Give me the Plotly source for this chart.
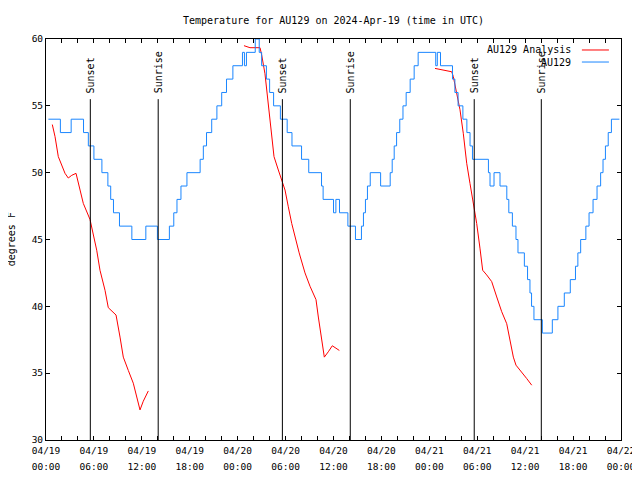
import pandas as pd
import plotly.graph_objects as go

# ---------------- data ----------------
start_date = "2024-04-19"
end_date = "2024-04-22"

# AU129 observed (level start hour after 04/19 00:00 UTC, temp F) - drawn as steps
obs_hours = [0.3, 1.8, 3.15, 4.7, 5.3, 6.0, 7.0, 7.75, 8.1, 8.45, 9.2, 10.75, 12.5, 13.95,
             15.45, 16.0, 16.4, 16.9, 17.65, 19.3, 19.7, 20.1, 20.75, 21.4, 22.0, 22.6, 23.4,
             24.6, 24.85, 25.1, 26.2, 26.7, 27.0, 27.6, 28.0, 28.5, 29.35, 30.2, 30.8, 32.0,
             32.9, 34.5, 34.7, 36.0, 36.3, 36.75, 37.8, 38.75, 39.5, 39.75, 40.0, 40.25, 40.6,
             41.9, 43.1, 43.35, 43.6, 43.9, 44.3, 44.7, 45.1, 45.6, 46.1, 46.6, 48.8, 49.0,
             49.4, 50.9, 51.2, 51.6, 52.2, 52.7, 53.1, 53.4, 55.4, 55.6, 56.1, 56.85, 57.7,
             57.95, 58.4, 58.85, 59.1, 59.9, 60.3, 60.6, 60.8, 61.1, 62.15, 63.4, 64.1, 64.9,
             65.65, 66.3, 66.6, 66.95, 67.6, 68.0, 68.5, 69.0, 69.45, 69.75, 70.05, 70.4, 70.8,
             71.8]
obs_temps = [54, 53, 54, 53, 52, 51, 50, 49, 48, 47, 46, 45, 46, 45,
             46, 47, 48, 49, 50, 51, 52, 53, 54, 55, 56, 57, 58,
             59, 58, 59, 60, 59, 58, 57, 56, 55, 54, 53, 52, 51,
             50, 49, 48, 47, 48, 47, 46, 45, 46, 47, 48, 49, 50,
             49, 50, 51, 52, 53, 54, 55, 56, 57, 58, 59, 58, 59,
             58, 57, 56, 55, 54, 53, 52, 51, 50, 49, 50, 49, 48,
             47, 46, 45, 44, 43, 42, 41, 40, 39, 38, 39, 40, 41,
             42, 43, 44, 45, 46, 47, 48, 49, 50, 51, 52, 53, 54,
             54]

# AU129 Analysis (three separate runs)
ana1_hours = [0.79, 1.13, 1.54, 1.84, 2.38, 2.79, 3.22, 3.76, 4.67, 5.51, 6.35, 6.76, 7.39,
              7.8, 8.77, 9.27, 9.68, 10.31, 10.93, 11.77, 12.18, 12.81]
ana1_temps = [53.6, 52.7, 51.2, 50.7, 49.95, 49.6, 49.8, 49.95, 47.7, 46.5, 44.2, 42.7, 41.2,
              39.9, 39.35, 37.7, 36.2, 35.2, 34.25, 32.25, 32.9, 33.67]
ana2_hours = [24.79, 25.54, 26.8, 27.01, 27.42, 27.84, 28.26, 28.55, 29.09, 29.51, 29.93,
              30.34, 30.77, 31.7, 32.43, 33.06, 33.81, 34.1, 34.52, 34.85, 35.35, 35.85, 36.73]
ana2_temps = [59.5, 59.35, 59.35, 58.8, 57.4, 55.2, 53.2, 51.2, 50.2, 49.45, 48.7,
              47.45, 46.2, 44.0, 42.5, 41.5, 40.5, 39.2, 37.5, 36.2, 36.6, 37.05, 36.7]
ana3_hours = [48.71, 49.55, 50.8, 51.0, 51.43, 51.84, 52.25, 52.68, 53.09, 53.51, 53.93,
              54.35, 54.68, 55.18, 55.81, 56.44, 57.06, 57.69, 58.1, 58.52, 58.85, 59.57,
              60.19, 60.82]
ana3_temps = [57.8, 57.7, 57.55, 57.2, 55.9, 54.7, 52.95, 50.7, 49.2, 47.7, 46.2,
              44.3, 42.7, 42.35, 41.85, 40.7, 39.6, 38.7, 37.5, 36.2, 35.6, 35.1,
              34.6, 34.1]

event_hours = [5.55, 14.05, 29.6, 38.1, 53.62, 62.02]
event_labels = ["Sunset", "Sunrise", "Sunset", "Sunrise", "Sunset", "Sunrise"]

y_min, y_max = 30, 60
title_text = "Temperature for AU129 on 2024-Apr-19 (time in UTC)"
y_label = "degrees F"
series_names = ["AU129 Analysis", "AU129"]

# ---------------- helpers ----------------
base = pd.Timestamp(start_date)


def to_dt(hours):
    return [(base + pd.Timedelta(hours=h)).strftime("%Y-%m-%d %H:%M:%S") for h in hours]


RED = "#ff0000"
BLUE = "#1a86ff"
FONT = "DejaVu Sans Mono"

# page body has an 8px margin: size the figure so the page is exactly 640x480
FIG_W, FIG_H = 624, 464

fig = go.Figure()

ana_sets = [(ana1_hours, ana1_temps), (ana2_hours, ana2_temps), (ana3_hours, ana3_temps)]
for i, (hh, tt) in enumerate(ana_sets):
    fig.add_trace(go.Scatter(x=to_dt(hh), y=tt, mode="lines", name=series_names[0],
                             line=dict(color=RED, width=1), showlegend=False))

fig.add_trace(go.Scatter(x=to_dt(obs_hours), y=obs_temps, mode="lines", name=series_names[1],
                         line=dict(color=BLUE, width=1, shape="hv"), showlegend=False))

# dummy trace for the secondary (time-of-day) label axis
fig.add_trace(go.Scatter(x=[start_date, end_date], y=[None, None], xaxis="x2",
                         mode="lines", showlegend=False, hoverinfo="skip"))

# sunrise / sunset markers
line_top = 55.5
for h, lab in zip(event_hours, event_labels):
    t = to_dt([h])[0]
    fig.add_shape(type="line", x0=t, x1=t, y0=y_min, y1=line_top, xref="x", yref="y",
                  line=dict(color="black", width=1))
    fig.add_annotation(x=t, y=line_top, xref="x", yref="y", text=lab, textangle=-90,
                       showarrow=False, yanchor="bottom", xanchor="center", yshift=4,
                       font=dict(family=FONT, size=10, color="black"))

# manual legend (text then line sample, gnuplot style)
legend_rows = [(series_names[0], RED, 0.9726), (series_names[1], BLUE, 0.9426)]
for name, col, yp in legend_rows:
    fig.add_annotation(x=0.9165, y=yp, xref="paper", yref="paper", text=name,
                       showarrow=False, xanchor="right", yanchor="middle",
                       font=dict(family=FONT, size=10, color="black"))
    fig.add_shape(type="line", x0=0.932, x1=0.979, y0=yp, y1=yp, xref="paper", yref="paper",
                  line=dict(color=col, width=1))

# y axis label
fig.add_annotation(x=-0.0595, y=0.5, xref="paper", yref="paper", text=y_label,
                   textangle=-90, showarrow=False, xanchor="center", yanchor="middle",
                   font=dict(family=FONT, size=10, color="black"))

six_h = 6 * 3600 * 1000
two_h = 2 * 3600 * 1000

fig.update_layout(
    width=FIG_W, height=FIG_H,
    margin=dict(l=38, r=11, t=31, b=32, pad=0),
    paper_bgcolor="white", plot_bgcolor="white",
    showlegend=False,
    title=dict(text=title_text, x=0.5, xref="paper", xanchor="center",
               y=1 - 12 / FIG_H, yref="container", yanchor="middle",
               font=dict(family=FONT, size=10, color="black")),
    xaxis=dict(type="date", range=[start_date, end_date], dtick=six_h, tick0=start_date,
               tickformat="%m/%d", ticks="inside", ticklen=4, tickcolor="black",
               showline=True, linecolor="black", linewidth=1, mirror="ticks",
               showgrid=False, zeroline=False, ticklabelstandoff=2, automargin=False,
               ticklabeloverflow="allow",
               minor=dict(dtick=two_h, tick0=start_date, ticks="inside", ticklen=4,
                          tickcolor="black", showgrid=False),
               tickfont=dict(family=FONT, size=9.5, color="black")),
    xaxis2=dict(type="date", range=[start_date, end_date], dtick=six_h, tick0=start_date,
                tickformat="%H:%M", overlaying="x", anchor="free", position=0, side="bottom",
                showline=False, ticks="", showgrid=False, zeroline=False,
                ticklabelstandoff=19, automargin=False, ticklabeloverflow="allow",
                tickfont=dict(family=FONT, size=9.5, color="black")),
    yaxis=dict(range=[y_min, y_max], dtick=5, ticks="inside", ticklen=4, tickcolor="black",
               showline=True, linecolor="black", linewidth=1, mirror="ticks",
               showgrid=False, zeroline=False, automargin=False,
               tickfont=dict(family=FONT, size=9.5, color="black")),
)

post = ("var s=document.querySelectorAll('svg.main-svg');"
        "for(var i=0;i<s.length;i++){s[i].style.overflow='visible';}")
fig.write_html("out.html", post_script=post)
